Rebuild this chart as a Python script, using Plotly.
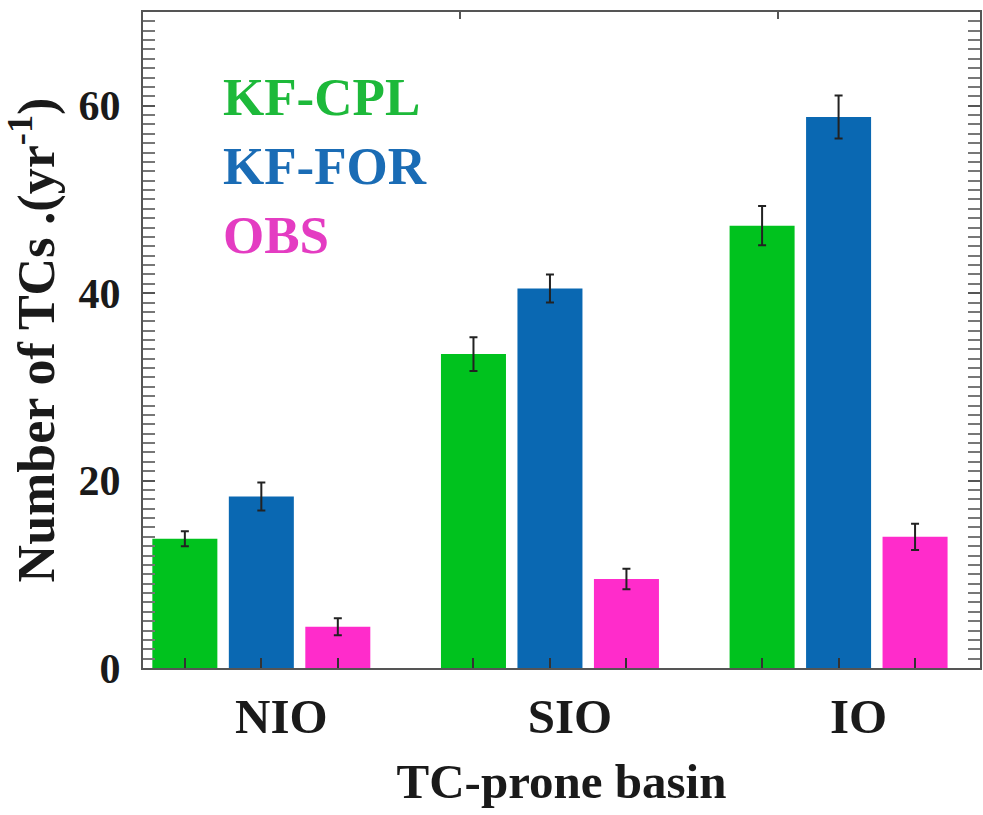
import plotly.graph_objects as go

basins = ["NIO", "SIO", "IO"]
series_names = ["KF-CPL", "KF-FOR", "OBS"]
kf_cpl = [13.8, 33.5, 47.2]
kf_cpl_err = [0.8, 1.8, 2.1]
kf_for = [18.3, 40.5, 58.8]
kf_for_err = [1.5, 1.5, 2.3]
obs = [4.4, 9.5, 14.0]
obs_err = [0.9, 1.1, 1.4]
y_labelled_ticks = [0, 20, 40, 60]
y_unlabelled_ticks = [10, 30, 50]

bar_colors = ["#00C21E", "#0A68B2", "#FF2CCB"]
text_colors = ["#1DB93A", "#1A6CB5", "#E43CC2"]

FONT = "Liberation Serif"
BARGAP = 0.205
GROUPGAP = 0.15
XR = [-0.41, 2.49]
YR = [0, 70]

fig = go.Figure()
for name, vals, errs, col in zip(series_names, [kf_cpl, kf_for, obs],
                                 [kf_cpl_err, kf_for_err, obs_err], bar_colors):
    fig.add_trace(go.Bar(
        x=basins, y=vals, name=name, marker=dict(color=col, line=dict(width=0)),
        error_y=dict(type="data", array=errs, color="#222222", thickness=2, width=4),
        showlegend=False,
    ))

# bar-centre ticks on the bottom axis (derived from the group layout)
slot = (1 - BARGAP) / 3
centre_ticks = [i + (j - 1) * slot for i in range(len(basins)) for j in range(3)]
fig.add_trace(go.Scatter(x=[None], y=[None], xaxis="x2", showlegend=False, hoverinfo="skip"))
fig.add_trace(go.Scatter(x=[None], y=[None], xaxis="x3", showlegend=False, hoverinfo="skip"))
fig.add_trace(go.Scatter(x=[None], y=[None], yaxis="y2", showlegend=False, hoverinfo="skip"))

for k, (name, tc) in enumerate(zip(series_names, text_colors)):
    fig.add_annotation(
        x=0.093, y=0.917 - k * 0.105, xref="paper", yref="paper",
        xanchor="left", yanchor="top", text=name, showarrow=False,
        font=dict(family=FONT, size=53, color=tc, weight="bold"),
    )

fig.update_layout(
    width=983, height=815,
    margin=dict(l=143, r=3, t=12, b=147, autoexpand=False),
    paper_bgcolor="white", plot_bgcolor="white",
    barmode="group", bargap=BARGAP, bargroupgap=GROUPGAP,
    font=dict(family=FONT, color="#1a1a1a"),
    xaxis=dict(
        type="category", range=XR, showline=True, linecolor="#555555", linewidth=2,
        mirror=True, ticks="", showgrid=False, zeroline=False, automargin=False,
        tickfont=dict(family=FONT, size=49, color="#1a1a1a", weight="bold"),
        ticklabelshift=20, ticklabelstandoff=4,
        title=dict(text="TC-prone basin", standoff=21,
                   font=dict(family=FONT, size=49, color="#1a1a1a", weight="bold")),
    ),
    xaxis2=dict(
        overlaying="x", anchor="y", side="bottom", range=XR, showline=False,
        showgrid=False, zeroline=False, showticklabels=False, automargin=False,
        tickvals=centre_ticks, ticks="inside", ticklen=10, tickwidth=2, tickcolor="#333333",
    ),
    xaxis3=dict(
        overlaying="x", anchor="y", side="top", range=XR, showline=False,
        showgrid=False, zeroline=False, showticklabels=False, automargin=False,
        tickvals=[0.69, 1.79], ticks="inside", ticklen=7, tickwidth=2, tickcolor="#555555",
    ),
    yaxis=dict(
        range=YR, showline=True, linecolor="#555555", linewidth=2, mirror="allticks",
        tickvals=y_labelled_ticks,
        ticks="inside", ticklen=12, tickwidth=2, tickcolor="#555555",
        minor=dict(dtick=1, ticks="inside", ticklen=6, tickwidth=1.5, tickcolor="#777777", showgrid=False),
        showgrid=False, zeroline=False, automargin=False,
        tickfont=dict(family=FONT, size=42, color="#1a1a1a", weight="bold"),
        ticklabelstandoff=12,
        title=dict(text="Number of TCs .(yr<sup>-1</sup>)", standoff=12,
                   font=dict(family=FONT, size=52, color="#1a1a1a", weight="bold")),
    ),
    yaxis2=dict(
        overlaying="y", anchor="x", side="left", range=YR, showline=True,
        linecolor="#555555", linewidth=2, mirror="allticks",
        tickvals=y_unlabelled_ticks, showticklabels=False,
        ticks="inside", ticklen=12, tickwidth=2, tickcolor="#555555",
        showgrid=False, zeroline=False, automargin=False,
    ),
)

fig.write_html(
    "out.html",
    config={"displayModeBar": False},
    post_script="document.body.style.margin='0';document.body.style.overflow='hidden';",
)
